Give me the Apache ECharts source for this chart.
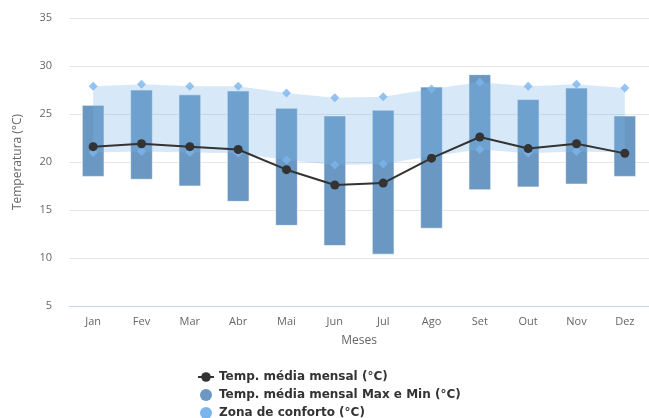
<!DOCTYPE html>
<html>
<head>
<meta charset="utf-8">
<script src="https://cdn.jsdelivr.net/npm/echarts@6/dist/echarts.min.js"></script>
<style>
  html, body { margin: 0; padding: 0; background: #fff; }
  #main { width: 649px; height: 418px; }
</style>
</head>
<body>
<div id="main"></div>
<script>
// meses
var months = ['Jan', 'Fev', 'Mar', 'Abr', 'Mai', 'Jun', 'Jul', 'Ago', 'Set', 'Out', 'Nov', 'Dez'];
// temperatura média mensal
var tempMedia = [21.6, 21.9, 21.6, 21.3, 19.2, 17.6, 17.8, 20.4, 22.6, 21.4, 21.9, 20.9];
// média mensal max e min
var tempMax = [25.9, 27.5, 27.0, 27.4, 25.6, 24.8, 25.4, 27.8, 29.1, 26.5, 27.7, 24.8];
var tempMin = [18.5, 18.2, 17.5, 15.9, 13.4, 11.3, 10.4, 13.1, 17.1, 17.4, 17.7, 18.5];
// zona de conforto
var confortoMax = [27.9, 28.1, 27.9, 27.9, 27.2, 26.7, 26.8, 27.6, 28.3, 27.9, 28.1, 27.7];
var confortoMin = [21.0, 21.1, 21.0, 20.9, 20.2, 19.7, 19.8, 20.6, 21.3, 20.9, 21.1, 21.0];

var chart = echarts.init(document.getElementById('main'));

var rangeData = months.map(function (m, i) { return [i, tempMin[i], tempMax[i]]; });
var bandData = months.map(function (m, i) { return [i, confortoMin[i], confortoMax[i]]; });

var barColor = '#6a98c2';

var option = {
  animation: false,
  textStyle: { fontFamily: 'Open Sans' },
  grid: { left: 69, right: -7, top: 18, bottom: 112 },
  legend: {
    orient: 'vertical',
    left: 192,
    top: 366,
    height: 80,
    itemWidth: 16,
    itemHeight: 12,
    itemGap: 6,
    textStyle: { fontFamily: 'DejaVu Sans', fontWeight: 'bold', fontSize: 12, color: '#333' },
    data: [
      { name: 'Temp. média mensal (°C)' },
      { name: 'Temp. média mensal Max e Min (°C)', icon: 'circle' },
      { name: 'Zona de conforto (°C)', icon: 'circle', itemStyle: { color: '#7cb5ec', opacity: 1 } }
    ]
  },
  xAxis: {
    type: 'category',
    data: months,
    name: 'Meses',
    nameLocation: 'middle',
    nameGap: 29,
    nameTextStyle: { color: '#666', fontSize: 12 },
    axisLine: { lineStyle: { color: '#ccd6eb' } },
    axisTick: { length: 9, lineStyle: { color: '#ccd6eb' } },
    axisLabel: { color: '#666', fontSize: 11, margin: 10 },
    splitLine: { show: false }
  },
  yAxis: {
    type: 'value',
    min: 5,
    max: 35,
    interval: 5,
    name: 'Temperatura (°C)',
    nameLocation: 'middle',
    nameGap: 45,
    nameTextStyle: { color: '#666', fontSize: 12 },
    axisLine: { show: false },
    axisTick: { show: false },
    axisLabel: { color: '#666', fontSize: 11, margin: 17 },
    splitLine: { lineStyle: { color: '#e6e6e6' } }
  },
  series: [
    {
      name: 'Temp. média mensal Max e Min (°C)',
      type: 'custom',
      z: 2,
      itemStyle: { color: barColor },
      renderItem: function (params, api) {
        var top = api.coord([api.value(0), api.value(2)]);
        var bot = api.coord([api.value(0), api.value(1)]);
        var w = api.size([1, 0])[0] * 0.45;
        return {
          type: 'rect',
          shape: { x: top[0] - w / 2, y: top[1], width: w, height: bot[1] - top[1] },
          style: { fill: barColor, stroke: 'rgba(255,255,255,0.6)', lineWidth: 1 }
        };
      },
      encode: { x: 0, y: [1, 2] },
      data: rangeData
    },
    {
      name: 'Zona de conforto (°C)',
      type: 'custom',
      z: 3,
      itemStyle: { color: '#7cb5ec' },
      renderItem: function (params, api) {
        if (params.dataIndex !== 0) return null;
        var pts = [];
        var i;
        for (i = 0; i < bandData.length; i++) pts.push(api.coord([i, bandData[i][2]]));
        for (i = bandData.length - 1; i >= 0; i--) pts.push(api.coord([i, bandData[i][1]]));
        return {
          type: 'polygon',
          shape: { points: pts },
          style: { fill: 'rgba(124,181,236,0.3)' }
        };
      },
      encode: { x: 0, y: [1, 2] },
      data: bandData
    },
    {
      name: 'Zona de conforto (°C)',
      type: 'scatter',
      z: 4,
      symbol: 'diamond',
      symbolSize: 9,
      itemStyle: { color: '#7cb5ec' },
      data: confortoMax
    },
    {
      name: 'Zona de conforto (°C)',
      type: 'scatter',
      z: 4,
      symbol: 'diamond',
      symbolSize: 9,
      itemStyle: { color: '#7cb5ec' },
      data: confortoMin
    },
    {
      name: 'Temp. média mensal (°C)',
      type: 'line',
      z: 5,
      symbol: 'circle',
      symbolSize: 9,
      lineStyle: { color: '#333', width: 2 },
      itemStyle: { color: '#333' },
      data: tempMedia
    }
  ]
};

chart.setOption(option);
</script>
</body>
</html>
